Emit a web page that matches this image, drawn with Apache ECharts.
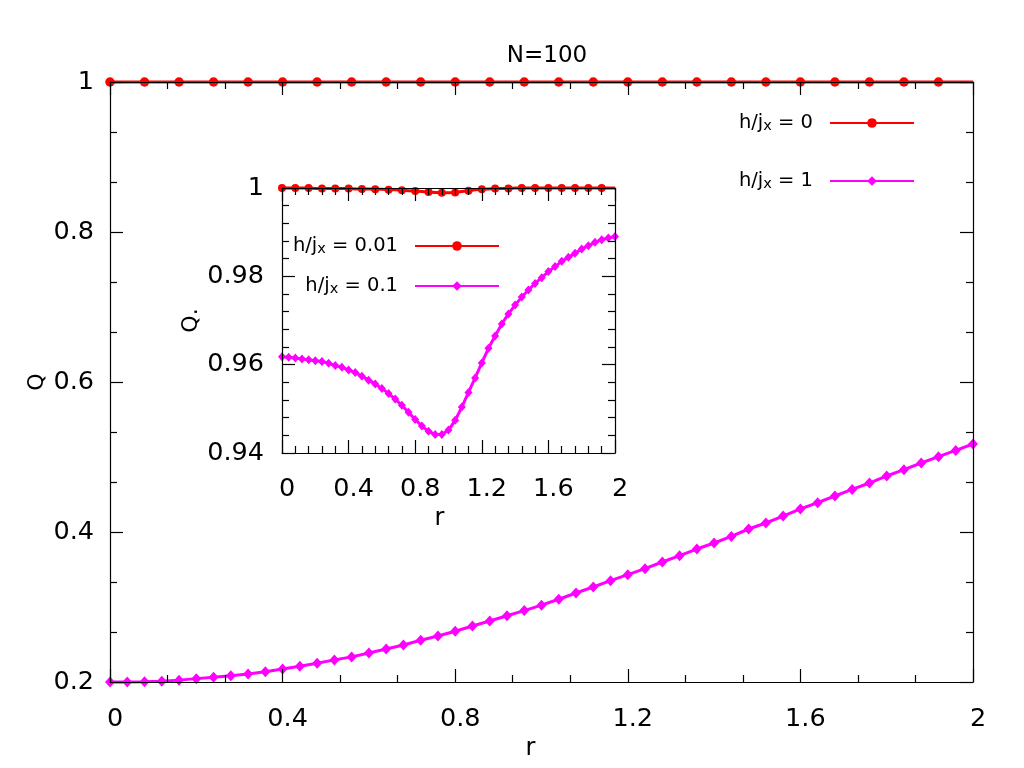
<!DOCTYPE html>
<html>
<head>
<meta charset="utf-8">
<script src="https://cdn.jsdelivr.net/npm/echarts@6/dist/echarts.min.js"></script>
<style>html,body{margin:0;padding:0;background:#fff}#c{width:1024px;height:768px}</style>
</head>
<body>
<div id="c"></div>
<script>
// r grid (both panels)
const rValues = [0,0.04,0.08,0.12,0.16,0.2,0.24,0.28,0.32,0.36,0.4,0.44,0.48,0.52,0.56,0.6,0.64,0.68,0.72,0.76,0.8,0.84,0.88,0.92,0.96,1.0,1.04,1.08,1.12,1.16,1.2,1.24,1.28,1.32,1.36,1.4,1.44,1.48,1.52,1.56,1.6,1.64,1.68,1.72,1.76,1.8,1.84,1.88,1.92,1.96,2.0];
// main panel: h/jx = 0
const mainH0 = [1,1,1,1,1,1,1,1,1,1,1,1,1,1,1,1,1,1,1,1,1,1,1,1,1,1,1,1,1,1,1,1,1,1,1,1,1,1,1,1,1,1,1,1,1,1,1,1,1,1,1];
// main panel: h/jx = 1
const mainH1 = [0.2000,0.2000,0.2002,0.2010,0.2025,0.2045,0.2062,0.2084,0.2107,0.2138,0.2173,0.2209,0.2249,0.2295,0.2335,0.2387,0.2440,0.2493,0.2556,0.2613,0.2676,0.2747,0.2813,0.2884,0.2952,0.3025,0.3103,0.3187,0.3267,0.3351,0.3431,0.3511,0.3600,0.3684,0.3773,0.3853,0.3941,0.4040,0.4120,0.4213,0.4307,0.4391,0.4480,0.4568,0.4653,0.4747,0.4831,0.4920,0.5004,0.5088,0.5173];
// inset: h/jx = 0.01
const insetH001 = [1.0000,1.0000,1.0000,1.0000,1.0000,0.9999,0.9999,0.9999,0.9999,0.9999,0.9999,0.9998,0.9998,0.9998,0.9997,0.9997,0.9996,0.9996,0.9995,0.9994,0.9993,0.9992,0.9991,0.9990,0.9989,0.9989,0.9990,0.9992,0.9994,0.9996,0.9997,0.9998,0.9999,0.9999,0.9999,1.0000,1.0000,1.0000,1.0000,1.0000,1.0000,1.0000,1.0000,1.0000,1.0000,1.0000,1.0000,1.0000,1.0000,1.0000,1.0000];
// inset: h/jx = 0.1
const insetH01 = [0.9618,0.9617,0.9615,0.9613,0.9611,0.9609,0.9607,0.9603,0.9598,0.9594,0.9588,0.9582,0.9574,0.9565,0.9556,0.9546,0.9535,0.9522,0.9508,0.9492,0.9476,0.9461,0.9449,0.9442,0.9442,0.9452,0.9474,0.9504,0.9537,0.9570,0.9604,0.9637,0.9665,0.9692,0.9715,0.9735,0.9753,0.9769,0.9784,0.9797,0.9811,0.9822,0.9834,0.9843,0.9852,0.9862,0.9869,0.9877,0.9883,0.9887,0.9890];
const seriesNames = ['h/jx = 0','h/jx = 1','h/jx = 0.01','h/jx = 0.1'];
const titleText = 'N=100';
const mainYName = 'Q';

const FONT = 'DejaVu Sans';
const TICK_FS = 25.5;
const pairs = ys => rValues.map((r, i) => [r, ys[i]]);
const fmt = v => String(+(+v).toFixed(3));

function axisX(grid, pos, showLabel, minorSplit, name, nameGap, lblMargin, namePadR) {
  return {
    type: 'value', gridIndex: grid, position: pos, min: 0, max: 2, interval: 0.4, z: 5,
    name: name || '', nameLocation: 'middle', nameGap: nameGap || 0,
    nameTextStyle: {fontFamily: FONT, fontSize: 24, color: '#000', padding: [0, namePadR || 0, 0, 0]},
    axisLine: {show: true, onZero: false, lineStyle: {color: '#000', width: 1.2}},
    axisTick: {show: true, inside: true, length: 13, lineStyle: {color: '#000', width: 1.2}},
    minorTick: {show: true, splitNumber: minorSplit, length: 7, lineStyle: {color: '#000', width: 1.2}},
    splitLine: {show: false},
    axisLabel: {show: showLabel, formatter: fmt, fontFamily: FONT, fontSize: TICK_FS, color: '#000',
      margin: lblMargin || 20, padding: [0, 0, 0, 10]}
  };
}
function axisY(grid, pos, showLabel, min, max, interval, minorSplit, name, nameGap, lblMargin) {
  return {
    type: 'value', gridIndex: grid, position: pos, min: min, max: max, interval: interval, z: 5,
    name: name || '', nameLocation: 'middle', nameGap: nameGap || 0, nameRotate: 90,
    nameTextStyle: {fontFamily: FONT, fontSize: 22, color: '#000'},
    axisLine: {show: true, onZero: false, lineStyle: {color: '#000', width: 1.2}},
    axisTick: {show: true, inside: true, length: 13, lineStyle: {color: '#000', width: 1.2}},
    minorTick: {show: true, splitNumber: minorSplit, length: 7, lineStyle: {color: '#000', width: 1.2}},
    splitLine: {show: false},
    axisLabel: {show: showLabel, formatter: fmt, fontFamily: FONT, fontSize: TICK_FS, color: '#000', margin: lblMargin || 16}
  };
}

const rich = {
  n: {fontFamily: FONT, fontSize: 19.5, color: '#000', lineHeight: 22},
  s: {fontFamily: FONT, fontSize: 14.5, color: '#000', lineHeight: 12, verticalAlign: 'bottom'}
};
const legFmt = name => '{n|h/j}{s|x}{n|' + name.split('x')[1] + '}';

const chart = echarts.init(document.getElementById('c'), null, {renderer: 'canvas'});
chart.setOption({
  animation: false,
  backgroundColor: '#fff',
  title: {text: titleText, left: 542, top: 40, textAlign: 'center',
    textStyle: {fontFamily: FONT, fontSize: 23, fontWeight: 'normal', color: '#000'}},
  graphic: [
    {type: 'text', x: 37, y: 382, rotation: Math.PI / 2, z: 10,
     style: {text: mainYName, font: '22px "DejaVu Sans"', fill: '#000', align: 'center', verticalAlign: 'middle'}}
  ],
  grid: [
    {left: 110, top: 82, width: 863, height: 600, show: false},
    {left: 282, top: 188, width: 333, height: 265, show: true, backgroundColor: '#fff', borderWidth: 0}
  ],
  xAxis: [
    axisX(0, 'bottom', true, 3, 'r', 51, 24, 22),
    axisX(0, 'top', false, 3),
    axisX(1, 'bottom', true, 5, 'r', 54, 23, 18),
    axisX(1, 'top', false, 5)
  ],
  yAxis: [
    axisY(0, 'left', true, 0.2, 1, 0.2, 3, '', 0, 16),
    axisY(0, 'right', false, 0.2, 1, 0.2, 3),
    axisY(1, 'left', true, 0.94, 1, 0.02, 5, 'Q.', 80, 18),
    axisY(1, 'right', false, 0.94, 1, 0.02, 5)
  ],
  legend: [
    {data: seriesNames.slice(0, 2), orient: 'vertical', align: 'right', right: 109, top: 113,
     itemWidth: 84, itemHeight: 12, itemGap: 37, padding: 0, formatter: legFmt,
     textStyle: {rich: rich, padding: [0, 12, 0, 0]}},
    {data: seriesNames.slice(2, 4), orient: 'vertical', align: 'right', right: 524, top: 236,
     itemWidth: 84, itemHeight: 12, itemGap: 19, padding: 0, formatter: legFmt,
     textStyle: {rich: rich, padding: [0, 12, 0, 0]}}
  ],
  series: [
    {name: seriesNames[0], type: 'line', xAxisIndex: 0, yAxisIndex: 0, data: pairs(mainH0),
     clip: false, showAllSymbol: true, symbol: 'circle',
     symbolSize: (v, p) => (p.dataIndex % 2 === 0 && p.dataIndex < 50 ? 9.5 : 0),
     lineStyle: {color: '#ff0000', width: 3}, itemStyle: {color: '#ff0000'}},
    {name: seriesNames[1], type: 'line', xAxisIndex: 0, yAxisIndex: 0, data: pairs(mainH1),
     clip: false, showAllSymbol: true, symbol: 'diamond', symbolSize: [10, 11],
     lineStyle: {color: '#ff00ff', width: 3}, itemStyle: {color: '#ff00ff'}},
    {name: seriesNames[2], type: 'line', xAxisIndex: 2, yAxisIndex: 2, data: pairs(insetH001),
     clip: false, showAllSymbol: true, symbol: 'circle',
     symbolSize: (v, p) => (p.dataIndex % 2 === 0 && p.dataIndex < 50 ? 8 : 0),
     lineStyle: {color: '#ff0000', width: 3}, itemStyle: {color: '#ff0000'}},
    {name: seriesNames[3], type: 'line', xAxisIndex: 2, yAxisIndex: 2, data: pairs(insetH01),
     clip: false, showAllSymbol: true, symbol: 'diamond', symbolSize: [8, 9],
     lineStyle: {color: '#ff00ff', width: 3}, itemStyle: {color: '#ff00ff'}}
  ]
});
</script>
</body>
</html>
